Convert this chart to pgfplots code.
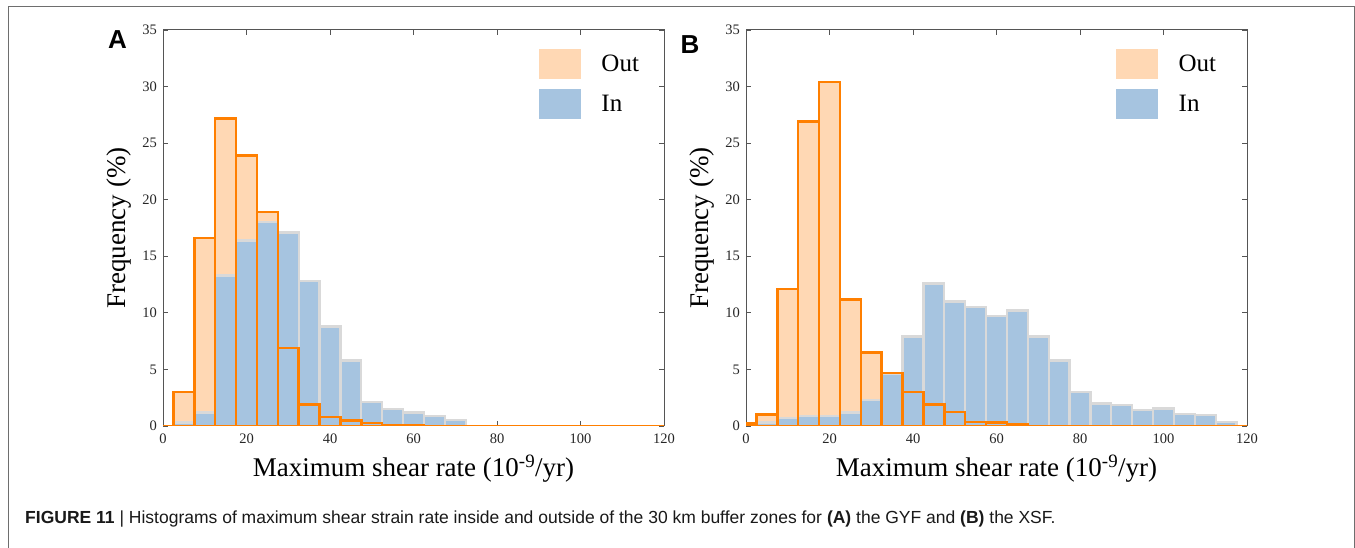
\documentclass[border=0pt]{standalone}
\usepackage{fontspec}
\setmainfont{Liberation Serif}
\newfontfamily\capfont{Liberation Sans}
\usepackage{pgfplots}
\pgfplotsset{compat=1.18}

\definecolor{outfill}{RGB}{255,216,180}
\definecolor{outline}{RGB}{255,127,0}
\definecolor{infill}{RGB}{166,196,224}
\definecolor{inedge}{RGB}{217,217,217}
\definecolor{axcol}{RGB}{85,85,85}
\definecolor{framecol}{RGB}{110,110,110}

\pgfplotsset{
  hist/.style={
    anchor=south west, scale only axis,
    width=501pt, height=396pt,
    xmin=0, xmax=120, ymin=0, ymax=35,
    xtick={0,20,...,120}, ytick={0,5,...,35},
    tick align=inside, major tick length=5pt,
    axis line style={draw=axcol, line width=1pt},
    every tick/.style={draw=axcol, line width=0.8pt},
    /pgf/number format/assume math mode=true,
    ticklabel style={font=\fontsize{14.5}{14.5}\selectfont, text=black!85, inner sep=0pt},
    xticklabel style={anchor=north, yshift=-8pt},
    yticklabel style={anchor=east, xshift=-6pt},
    xlabel={Maximum shear rate (10\textsuperscript{-9}/yr)},
    ylabel={Frequency (\%)},
    label style={font=\fontsize{27}{27}\selectfont, inner sep=0pt},
    xlabel style={at={([yshift=-51pt]axis description cs:0.5,0)}, anchor=base},
    ylabel style={at={([xshift=-38pt]axis description cs:0,0.5)}, anchor=base},
    legend cell align=left,
    legend style={draw=none, fill=none, inner sep=0pt, outer sep=0pt,
      font=\fontsize{25}{25}\selectfont, row sep=10.5pt, column sep=20.7pt,
      nodes={inner sep=0pt}},
  },
  patch/.style={legend image code/.code={\path[##1,draw=none] (0pt,-14.75pt) rectangle (42pt,14.75pt);}},
  outbar/.style={ybar, bar width=5, bar shift=0pt, fill=outfill, draw=none, patch},
  inbar/.style={ybar, bar width=5, bar shift=0pt, fill=infill, draw=inedge, line width=2.3pt, patch},
  outedge/.style={ybar, bar width=5, bar shift=0pt, fill=none, draw=outline, line width=2.6pt, forget plot},
}

\begin{document}
\begin{tikzpicture}
\useasboundingbox (0,0) rectangle (1355pt,548pt);
\draw[framecol, line width=1pt] (8pt,-5pt) -- (8pt,541pt) -- (1354pt,541pt) -- (1354pt,-5pt);

% panel A
\begin{axis}[hist, at={(163pt,122pt)},
  legend style={at={(rel axis cs:0.75,0.952)}, anchor=north west}]
\addplot[outbar] coordinates {(0,0) (5,3.0) (10,16.6) (15,27.2) (20,23.9) (25,18.9) (30,6.9) (35,1.9) (40,0.8) (45,0.5) (50,0.25) (55,0.1) (60,0.05)};
\addlegendentry{Out}
\addplot[inbar] coordinates {(5,0.3) (10,1.2) (15,13.3) (20,16.4) (25,18.0) (30,17.1) (35,12.8) (40,8.8) (45,5.8) (50,2.1) (55,1.5) (60,1.2) (65,0.9) (70,0.5)};
\addlegendentry{In}
\addplot[outedge] coordinates {(0,0) (5,3.0) (10,16.6) (15,27.2) (20,23.9) (25,18.9) (30,6.9) (35,1.9) (40,0.8) (45,0.5) (50,0.25) (55,0.1) (60,0.05)
  (65,0) (70,0) (75,0) (80,0) (85,0) (90,0) (95,0) (100,0) (105,0) (110,0) (115,0) (120,0)};
\end{axis}

% panel B
\begin{axis}[hist, at={(746pt,122pt)},
  legend style={at={(rel axis cs:0.7385,0.952)}, anchor=north west}]
\addplot[outbar] coordinates {(0,0.2) (5,1.0) (10,12.1) (15,26.9) (20,30.4) (25,11.2) (30,6.5) (35,4.7) (40,3.0) (45,1.9) (50,1.25) (55,0.35) (60,0.3) (65,0.15)};
\addlegendentry{Out}
\addplot[inbar] coordinates {(5,0.3) (10,0.7) (15,0.9) (20,0.9) (25,1.2) (30,2.3) (35,4.6) (40,7.9) (45,12.6) (50,11.0) (55,10.5) (60,9.7) (65,10.2) (70,7.9) (75,5.8) (80,3.0) (85,2.0) (90,1.85) (95,1.4) (100,1.55) (105,1.05) (110,0.95) (115,0.35)};
\addlegendentry{In}
\addplot[outedge] coordinates {(0,0.2) (5,1.0) (10,12.1) (15,26.9) (20,30.4) (25,11.2) (30,6.5) (35,4.7) (40,3.0) (45,1.9) (50,1.25) (55,0.35) (60,0.3) (65,0.15)
  (70,0) (75,0) (80,0) (85,0) (90,0) (95,0) (100,0) (105,0) (110,0) (115,0) (120,0)};
\end{axis}

\node[inner sep=0pt, font=\capfont\bfseries\fontsize{26}{26}\selectfont] at (117.5pt,508.5pt) {A};
\node[inner sep=0pt, font=\capfont\bfseries\fontsize{26}{26}\selectfont] at (690pt,503pt) {B};
\node[anchor=base west, inner sep=0pt, text=black!90, font=\capfont\fontsize{17.5}{17.5}\selectfont] at (25pt,24pt)
  {\textbf{FIGURE 11} | Histograms of maximum shear strain rate inside and outside of the 30 km buffer zones for \textbf{(A)} the GYF and \textbf{(B)} the XSF.};
\end{tikzpicture}
\end{document}
